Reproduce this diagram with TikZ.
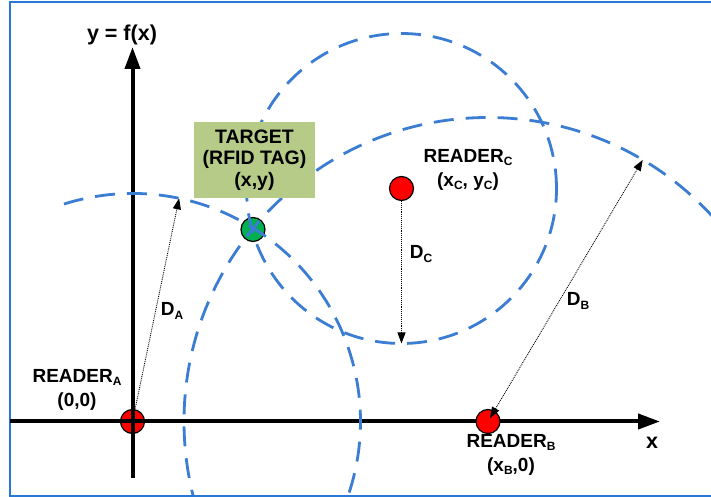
\documentclass[tikz,border=0pt]{standalone}
\usepackage{fontspec}
\setmainfont{Liberation Sans}
\usetikzlibrary{arrows.meta,calc}
\definecolor{ringblue}{RGB}{58,125,210}
\definecolor{frameblue}{RGB}{40,120,215}
\definecolor{tagbox}{RGB}{183,203,137}
\definecolor{taggreen}{RGB}{0,176,80}
\newcommand\sbs[1]{\raisebox{-0.17em}{\fontsize{12}{12}\selectfont #1}}
\begin{document}
\begin{tikzpicture}[x=1pt,y=1pt,
  ring/.style={draw=ringblue, line width=2.8pt, dash pattern=on 20pt off 12pt},
  axisline/.style={line width=4pt, -{Triangle[length=22pt,width=15pt]}},
  reader/.style={circle, draw=black, line width=1.2pt, fill=red, minimum size=24pt, inner sep=0pt},
  tagdot/.style={circle, draw=black, line width=1.2pt, fill=taggreen, minimum size=24pt, inner sep=0pt},
  distarrow/.style={densely dotted, line width=0.9pt, -{Triangle[length=11pt,width=8pt]}},
  distarrowboth/.style={densely dotted, line width=0.9pt, {Triangle[length=11pt,width=8pt]}-{Triangle[length=11pt,width=8pt]}},
  lbl/.style={font=\fontsize{19}{24}\selectfont\bfseries, align=center, inner sep=0pt},
]
\useasboundingbox (0,0) rectangle (711,497);
% frame
\coordinate (f1) at (713,1);
\coordinate (f2) at (10.3,1);
\coordinate (f3) at (10.3,495);
\coordinate (f4) at (713,495);
\draw[frameblue, line width=2pt] (f1) -- (f2) -- (f3) -- (f4);

% readers and target dots
\node[reader] (A) at (132.5,75.5) {};
\coordinate (xl) at (10,75.5);
\coordinate (xr) at (660,75.5);
\coordinate (yb) at (132.5,19);
\coordinate (yt) at (132.5,450);
\draw[axisline] (xl) -- (xr);
\draw[axisline] (yb) -- (yt);
\node[reader] (B) at (488,75.5) {};
\node[reader] (C) at (401.5,308.5) {};
\node[tagdot] (T) at (253,267.5) {};

% range circles
\begin{scope}
\clip (11.3,2) rectangle (711,494);
\draw[ring] ($(A)+(107.5:228)$) arc[start angle=107.5, end angle=-25, radius=228];
\draw[ring] (B) circle[radius=304];
\draw[ring] (C) circle[radius=155];
\end{scope}

% target box
\node[lbl, fill=tagbox, minimum width=121pt, minimum height=76pt, font=\fontsize{19.5}{21.5}\selectfont\bfseries] (tbox) at (254.5,337) {TARGET\\(RFID TAG)\\(x,y)};

% distance arrows
\coordinate (Ahit) at ($(A)+(78.2:228)$);
\coordinate (Bfoot) at ($(B)+(59.4:4)$);
\coordinate (Bhit) at ($(B)+(59.4:304)$);
\coordinate (Chit) at ($(C)+(0,-155)$);
\draw[distarrow] (A.center) -- (Ahit);
\draw[distarrowboth] (Bfoot) -- (Bhit);
\draw[distarrow] (C.south) -- (Chit);

% labels
\node[lbl, font=\fontsize{21.5}{24}\selectfont\bfseries] (ylab) at (122,462) {y = f(x)};
\node[lbl, font=\fontsize{21.5}{24}\selectfont\bfseries] (xlab) at (652,54) {x};
\node[lbl] (ra) at (77,107) {READER\sbs{A}\\(0,0)};
\node[lbl] (rb) at (511,42) {READER\sbs{B}\\(x\sbs{B},0)};
\node[lbl] (rc) at (468,327) {READER\sbs{C}\\(x\sbs{C}, y\sbs{C})};
\node[lbl] (da) at (172,186) {D\sbs{A}};
\node[lbl] (db) at (578,196) {D\sbs{B}};
\node[lbl] (dc) at (421,243) {D\sbs{C}};
\end{tikzpicture}
\end{document}
